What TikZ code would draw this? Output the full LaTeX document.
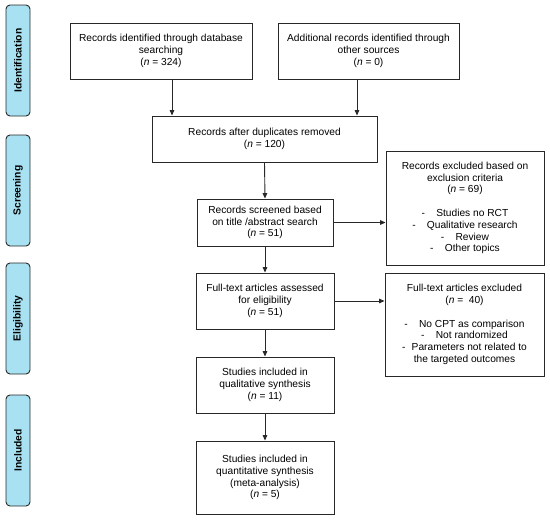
\documentclass[tikz,border=0pt]{standalone}
\usepackage{fontspec}
\setmainfont{Liberation Sans}
\usetikzlibrary{arrows.meta,calc}
\definecolor{barfill}{RGB}{168,225,241}
\definecolor{edge}{RGB}{40,40,40}
\begin{document}
\begin{tikzpicture}[x=1pt,y=-1pt,
  box/.style={draw=edge,line width=0.9pt,fill=white,align=center,inner sep=2pt,
    font=\fontsize{10.2}{11.8}\selectfont},
  bar/.style={draw=edge,line width=0.9pt,fill=barfill,rounded corners=4pt,
    minimum width=24pt,minimum height=111pt,inner sep=0pt},
  barlabel/.style={rotate=90,font=\fontsize{10.3}{12}\selectfont\bfseries},
  arr/.style={draw=edge,line width=0.9pt,-{Triangle[length=5.5pt,width=4.6pt]}}]
\useasboundingbox (0,0) rectangle (550,520);
% side bars
\node[bar] (bid) at (18,60.5) {};
\node[barlabel] at (bid) {Identification};
\node[bar] (bsc) at (18,190.5) {};
\node[barlabel] at (bsc) {Screening};
\node[bar] (bel) at (18,318.5) {};
\node[barlabel] at (bel) {Eligibility};
\node[bar] (bin) at (18,450.5) {};
\node[barlabel] at (bin) {Included};
% boxes
\node[box,minimum width=182pt,minimum height=56pt] (db) at (161,51)
  {Records identified through database\\searching\\(\textit{n} = 324)};
\node[box,minimum width=181pt,minimum height=56pt] (oth) at (368.5,51)
  {Additional records identified through\\other sources\\(\textit{n} = 0)};
\node[box,minimum width=225pt,minimum height=46pt] (dup) at (264.5,139)
  {Records after duplicates removed\\(\textit{n} = 120)};
\node[box,minimum width=136pt,minimum height=47pt] (scr) at (265,222.5)
  {Records screened based\\on title /abstract search\\(\textit{n} = 51)};
\node[box,minimum width=158pt,minimum height=114pt] (ex1) at (465,208)
  {Records excluded based on\\exclusion criteria\\(\textit{n} = 69)\\[11.8pt]
   -\hspace{1.1em}Studies no RCT\\-\hspace{1.1em}Qualitative research\\-\hspace{1.1em}Review\\-\hspace{1.1em}Other topics};
\node[box,minimum width=138pt,minimum height=56pt] (ft) at (265,301)
  {Full-text articles assessed\\for eligibility\\(\textit{n} = 51)};
\node[box,minimum width=159pt,minimum height=103pt] (ex2) at (464.5,324.5)
  {Full-text articles excluded\\(\textit{n} =\ \ 40)\\[11.8pt]
   -\hspace{1.1em}No CPT as comparison\\-\hspace{1.1em}Not randomized\\-\hspace{0.6em}Parameters not related to\\the targeted outcomes};
\node[box,minimum width=138pt,minimum height=56pt] (qual) at (265,385)
  {Studies included in\\qualitative synthesis\\(\textit{n} = 11)};
\node[box,minimum width=138pt,minimum height=73pt] (quant) at (265,477.5)
  {Studies included in\\quantitative synthesis\\(meta-analysis)\\(\textit{n} = 5)};
% arrows
\draw[arr] ([xshift=11pt]db.south) -- ([xshift=11pt]db.south |- dup.north);
\draw[arr] ([xshift=-11.5pt]oth.south) -- ([xshift=-11.5pt]oth.south |- dup.north);
\draw[arr] (dup.south) -- (scr.north);
\draw[arr] (scr.east) -- (scr.east -| ex1.west);
\draw[arr] (scr.south) -- (ft.north);
\draw[arr] (ft.east) -- (ft.east -| ex2.west);
\draw[arr] (ft.south) -- (qual.north);
\draw[arr] (qual.south) -- (quant.north);
\end{tikzpicture}
\end{document}
